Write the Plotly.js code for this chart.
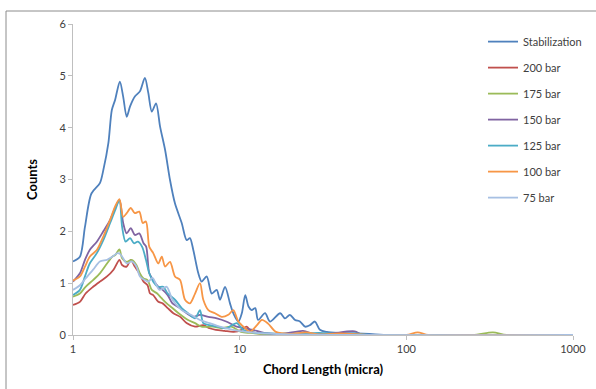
<!DOCTYPE html>
<html>
<head>
<meta charset="utf-8">
<script src="https://cdn.plot.ly/plotly-3.0.1.min.js"></script>
<style>
html,body{margin:0;padding:0;background:#fff;}
#chart{width:596px;height:389px;}
</style>
</head>
<body>
<div id="chart"></div>
<script>
// Series names (legend order)
const seriesNames = ["Stabilization", "200 bar", "175 bar", "150 bar", "125 bar", "100 bar", "75 bar"];

// Stabilization
const stabX = [1.0,1.10,1.18,1.29,1.45,1.52,1.63,1.71,1.79,1.91,2.00,2.10,2.20,2.35,2.52,2.70,2.83,2.97,3.15,3.33,3.57,3.82,4.09,4.49,4.81,5.03,5.27,5.65,5.92,6.34,6.80,7.28,7.62,8.17,8.75,9.16,9.82,10.3,10.8,11.3,11.8,12.4,12.9,14.2,15.2,17.5,18.7,20.0,21.5,23.0,24.7,26.4,28.3,30.3,33.3,40,50,60,80,1000];
const stabY = [1.42,1.51,2.09,2.73,2.93,3.18,3.70,4.34,4.54,4.89,4.60,4.21,4.41,4.60,4.70,4.96,4.67,4.31,4.47,4.02,3.57,2.99,2.54,2.16,1.83,1.87,1.64,1.19,1.03,1.13,0.80,0.87,0.68,0.93,0.61,0.42,0.26,0.42,0.77,0.55,0.48,0.52,0.29,0.42,0.26,0.42,0.32,0.39,0.29,0.26,0.16,0.19,0.26,0.10,0.06,0.04,0.03,0.02,0,0];

// 200 bar
const bar200X = [1.0,1.10,1.19,1.32,1.45,1.60,1.75,1.90,1.97,2.10,2.22,2.35,2.50,2.65,2.80,2.90,3.03,3.25,3.45,3.70,4.00,4.40,4.80,5.40,6.05,6.60,7.20,8.10,9.20,10.3,11.0,11.8,13,16,20,30,1000];
const bar200Y = [0.58,0.64,0.80,0.93,1.03,1.13,1.26,1.45,1.35,1.32,1.45,1.32,1.19,1.03,0.96,0.80,0.77,0.64,0.61,0.52,0.42,0.35,0.23,0.16,0.19,0.13,0.10,0.08,0.06,0.10,0.16,0.06,0.03,0.02,0.01,0,0];

// 175 bar
const bar175X = [1.0,1.10,1.19,1.32,1.45,1.60,1.72,1.79,1.90,1.97,2.10,2.25,2.40,2.52,2.65,2.80,2.97,3.20,3.40,3.65,3.95,4.30,4.90,5.40,5.90,6.90,7.80,8.90,10.2,11.5,14,20,30,40,100,250,331,400,1000];
const bar175Y = [0.74,0.80,0.93,1.06,1.19,1.38,1.51,1.54,1.65,1.48,1.41,1.45,1.35,1.19,1.09,1.06,0.87,0.80,0.71,0.61,0.52,0.42,0.29,0.23,0.16,0.16,0.13,0.16,0.06,0.04,0.02,0.03,0.01,0,0,0,0.05,0,0];

// 150 bar
const bar150X = [1.0,1.10,1.18,1.26,1.39,1.52,1.67,1.79,1.90,2.00,2.10,2.22,2.35,2.50,2.65,2.75,2.87,3.03,3.25,3.45,3.70,3.95,4.39,4.81,5.27,5.78,6.49,7.30,8.30,9.60,10.8,12.0,14,18,24,28,35,49,55,1000];
const bar150Y = [1.03,1.19,1.45,1.64,1.80,2.00,2.22,2.45,2.60,2.16,1.96,2.06,1.93,1.96,1.77,1.70,1.19,1.06,0.93,0.87,0.77,0.61,0.52,0.42,0.35,0.39,0.35,0.32,0.26,0.16,0.13,0.10,0.04,0.02,0.08,0.02,0.03,0.07,0,0];

// 125 bar
const bar125X = [1.0,1.10,1.18,1.26,1.39,1.52,1.67,1.79,1.90,1.97,2.07,2.20,2.32,2.45,2.60,2.74,2.87,3.03,3.25,3.48,3.70,4.09,4.49,4.90,5.40,5.78,6.05,6.60,7.40,8.30,9.60,10.5,12,15,20,30,40,50,60,1000];
const bar125Y = [0.77,0.87,1.13,1.38,1.58,1.83,2.16,2.41,2.60,2.09,1.80,1.87,1.77,1.80,1.70,1.45,1.19,1.03,0.93,0.93,0.80,0.68,0.52,0.42,0.32,0.48,0.23,0.19,0.16,0.13,0.23,0.10,0.05,0.03,0.02,0.04,0.02,0.03,0,0];

// 100 bar
const bar100X = [1.0,1.10,1.18,1.26,1.39,1.52,1.67,1.79,1.90,2.00,2.10,2.22,2.35,2.50,2.62,2.74,2.87,3.03,3.25,3.41,3.57,3.82,4.09,4.39,4.70,5.03,5.40,5.78,6.05,6.49,7.11,7.80,8.55,9.16,9.82,10.8,11.5,12.7,13.6,14.8,16.5,20,25,30,40,60,100,117,135,200,1000];
const bar100Y = [1.05,1.13,1.32,1.51,1.64,1.90,2.22,2.48,2.62,2.28,2.35,2.45,2.35,2.38,2.16,2.19,1.70,1.58,1.38,1.51,1.32,1.41,1.13,1.06,0.68,0.61,0.80,1.00,0.68,0.48,0.42,0.35,0.39,0.48,0.26,0.13,0.06,0.19,0.29,0.22,0.06,0.02,0.05,0.01,0.03,0,0,0.05,0,0,0];

// 75 bar
const bar75X = [1.0,1.10,1.19,1.32,1.45,1.60,1.72,1.85,1.92,2.00,2.10,2.25,2.40,2.52,2.70,2.83,3.00,3.30,3.65,3.95,4.49,5.10,5.78,6.60,7.60,9.10,11,14,20,1000];
const bar75Y = [0.87,0.96,1.09,1.26,1.42,1.45,1.51,1.58,1.56,1.48,1.38,1.42,1.32,1.13,1.06,1.03,1.10,0.87,0.93,0.68,0.48,0.39,0.29,0.23,0.16,0.10,0.06,0.03,0.01,0];

// Axis ticks
const xTickVals = [1, 10, 100, 1000];
const xTickText = ["1", "10", "100", "1000"];
const yTickVals = [0, 1, 2, 3, 4, 5, 6];

const colors = ["#4F81BD", "#C0504D", "#9BBB59", "#8064A2", "#4BACC6", "#F79646", "#A7C0E3"];
const xs = [stabX, bar200X, bar175X, bar150X, bar125X, bar100X, bar75X];
const ys = [stabY, bar200Y, bar175Y, bar150Y, bar125Y, bar100Y, bar75Y];

const traces = seriesNames.map((n, i) => ({
  type: "scatter", mode: "lines", name: n,
  x: xs[i], y: ys[i],
  line: {color: colors[i], width: 1.8, shape: "spline", smoothing: 0.8},
  legendgroup: "g" + i
}));

const font = "Lato, 'Open Sans', sans-serif";
const layout = {
  width: 596, height: 389,
  margin: {l: 73, r: 23, t: 24, b: 54, autoexpand: false},
  paper_bgcolor: "#fff", plot_bgcolor: "#fff",
  font: {family: font, size: 11, color: "#404040"},
  showlegend: true,
  legend: {x: 0.82, y: 0.99, xanchor: "left", yanchor: "top", bgcolor: "rgba(0,0,0,0)",
    font: {family: font, size: 11, color: "#404040"}, tracegroupgap: 7, itemwidth: 30},
  xaxis: {
    type: "log", range: [0, 3],
    tickvals: xTickVals, ticktext: xTickText,
    showgrid: false, zeroline: false, showline: true, linecolor: "#BFBFBF", linewidth: 1,
    ticks: "outside", ticklen: 4, tickcolor: "#BFBFBF",
    tickfont: {family: font, size: 11, color: "#404040"},
    title: {text: "<b>Chord Length (micra)</b>", font: {family: font, size: 13, color: "#000"}, standoff: 10}
  },
  yaxis: {
    range: [0, 6], tickvals: yTickVals,
    showgrid: false, zeroline: false, showline: true, linecolor: "#BFBFBF", linewidth: 1,
    ticks: "outside", ticklen: 4, tickcolor: "#BFBFBF",
    tickfont: {family: font, size: 11, color: "#404040"},
    title: {text: "<b>Counts</b>", font: {family: font, size: 13, color: "#000"}, standoff: 18}
  },
  shapes: [{
    type: "rect", xref: "paper", yref: "paper",
    x0: -0.134, x1: 1.06, y0: -0.2, y1: 1.0418,
    line: {color: "#8C8C8C", width: 1}, fillcolor: "rgba(0,0,0,0)", layer: "below"
  }]
};

Plotly.newPlot("chart", traces, layout, {displayModeBar: false, staticPlot: true});
</script>
</body>
</html>
